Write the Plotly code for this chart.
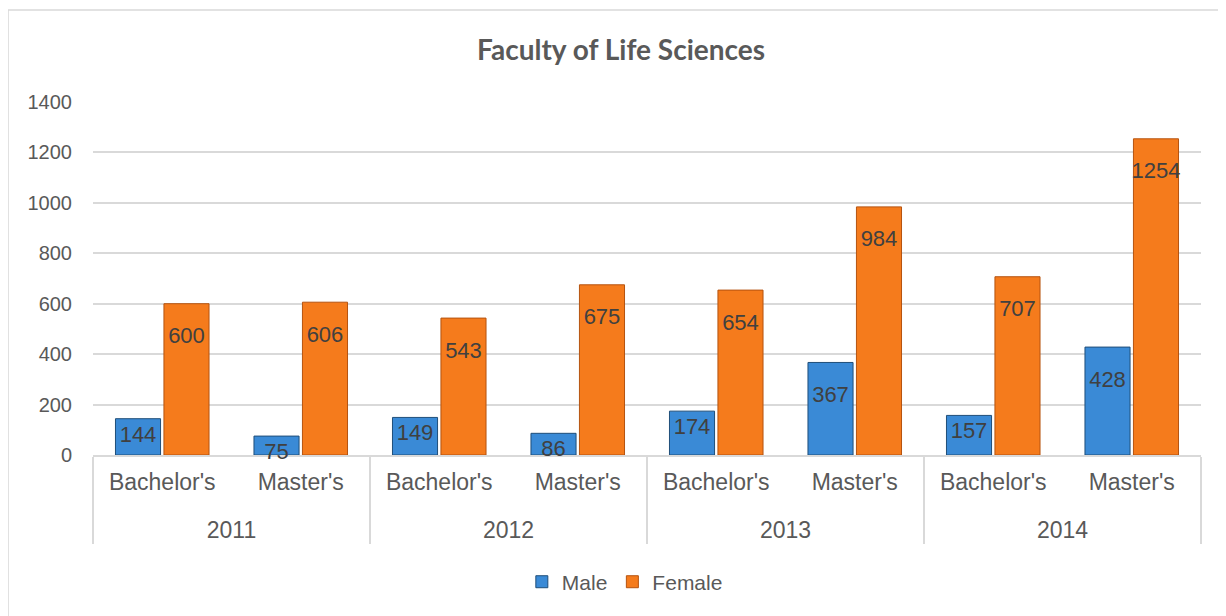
import plotly.graph_objects as go

years = ["2011", "2011", "2012", "2012", "2013", "2013", "2014", "2014"]
degrees = ["Bachelor's", "Master's"] * 4
male = [144, 75, 149, 86, 174, 367, 157, 428]
female = [600, 606, 543, 675, 654, 984, 707, 1254]

# Excel-style "inside end" labels sit a little lower in tall bars
spacer = "<span style='font-size:9px'>&nbsp;</span><br>"


def labels(vals):
    return [(spacer if v > 250 else "") + str(v) for v in vals]


# tiny blank line under the degree labels pushes the year row down
degree_ticks = [d + "<br><span style='font-size:1px'>&nbsp;</span>" for d in degrees]

fig = go.Figure()
fig.add_trace(go.Bar(
    x=[years, degree_ticks], y=male, name="Male",
    marker=dict(color="#3a8ad6", line=dict(color="#1f4e79", width=1)),
    text=labels(male), textposition="inside", insidetextanchor="end",
    constraintext="none", textangle=0, cliponaxis=False,
    textfont=dict(family="Liberation Sans, Arial", size=22, color="#404040"),
))
fig.add_trace(go.Bar(
    x=[years, degree_ticks], y=female, name="Female",
    marker=dict(color="#f57b1c", line=dict(color="#b5530f", width=1)),
    text=labels(female), textposition="inside", insidetextanchor="end",
    constraintext="none", textangle=0, cliponaxis=False,
    textfont=dict(family="Liberation Sans, Arial", size=22, color="#404040"),
))

fig.update_layout(
    width=1226, height=616,
    paper_bgcolor="white", plot_bgcolor="white",
    margin=dict(l=85, r=33, t=94, b=169),
    barmode="group", bargap=0.3, bargroupgap=0.07,
    title=dict(text="<b>Faculty of Life Sciences</b>", x=0.5, xanchor="center",
               y=0.932, yanchor="middle",
               font=dict(family="Lato", size=28, color="#595959")),
    font=dict(family="Liberation Sans, Arial", size=20, color="#595959"),
    showlegend=True,
    legend=dict(orientation="h", x=0.48, xanchor="center", y=-0.36,
                yanchor="middle", font=dict(size=21, color="#595959"),
                itemwidth=30, traceorder="normal"),
    shapes=[dict(type="rect", xref="paper", yref="paper",
                 x0=-0.0767, x1=1.03, y0=-0.6, y1=1.2606,
                 line=dict(color="#d9d9d9", width=1.5))],
)
fig.update_yaxes(range=[0, 1400], dtick=200, showgrid=True,
                 gridcolor="#d9d9d9", gridwidth=1.5, zeroline=False,
                 showline=False, ticks="", ticklabelstandoff=20,
                 tickfont=dict(size=20, color="#595959"))
fig.update_xaxes(showline=True, linecolor="#d9d9d9", linewidth=2,
                 showdividers=True, dividercolor="#d9d9d9", dividerwidth=2,
                 ticks="", ticklabelstandoff=5, layer="below traces",
                 tickfont=dict(size=23, color="#595959"))

fig.write_html("out.html")
